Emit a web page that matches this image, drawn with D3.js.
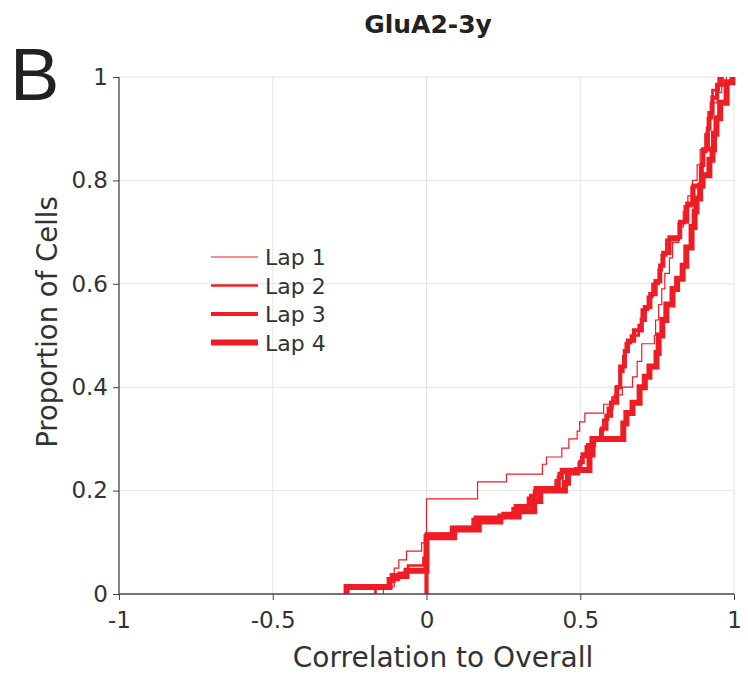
<!DOCTYPE html>
<html>
<head>
  <meta charset="utf-8">
  <title>GluA2-3y</title>
  <style>
    body { margin: 0; background: #fff; }
    svg { display: block; }
    text { font-family: "DejaVu Sans", Verdana, sans-serif; fill: #333; }
  </style>
  <script src="https://cdn.jsdelivr.net/npm/d3@7"></script>
</head>
<body>
<script>
  // step vertices of each cumulative curve: [correlation, proportion]
  var lap1 = [
    [-0.14, 0], [-0.14, 0.014], [-0.105, 0.05], [-0.09, 0.066], [-0.065, 0.083], [-0.016, 0.099],
    [0, 0.184], [0.166, 0.217], [0.26, 0.232], [0.377, 0.251], [0.39, 0.265], [0.44, 0.282],
    [0.463, 0.3], [0.49, 0.315], [0.498, 0.333], [0.515, 0.35], [0.576, 0.367], [0.61, 0.385],
    [0.637, 0.4], [0.67, 0.42], [0.685, 0.45], [0.7, 0.484], [0.741, 0.5], [0.745, 0.53],
    [0.755, 0.56], [0.765, 0.59], [0.775, 0.62], [0.79, 0.65], [0.8, 0.68], [0.82, 0.71],
    [0.835, 0.74], [0.85, 0.77], [0.865, 0.8], [0.88, 0.83], [0.89, 0.86], [0.905, 0.89],
    [0.915, 0.92], [0.93, 0.95], [0.945, 0.97], [0.96, 0.985], [0.975, 1]
  ];
  var lap2 = [
    [-0.166, 0], [-0.166, 0.014], [-0.12, 0.027], [-0.09, 0.041], [-0.06, 0.055], [-0.01, 0.07],
    [0, 0.117], [0.08, 0.13], [0.15, 0.145], [0.24, 0.152], [0.28, 0.166], [0.33, 0.186],
    [0.35, 0.2], [0.42, 0.22], [0.43, 0.234], [0.495, 0.253], [0.503, 0.265], [0.518, 0.285],
    [0.535, 0.298], [0.565, 0.317], [0.575, 0.337], [0.59, 0.36], [0.605, 0.38], [0.615, 0.4],
    [0.63, 0.43], [0.64, 0.46], [0.648, 0.485], [0.665, 0.5], [0.69, 0.52], [0.7, 0.55],
    [0.72, 0.575], [0.735, 0.6], [0.755, 0.627], [0.765, 0.655], [0.78, 0.685], [0.82, 0.717],
    [0.84, 0.75], [0.862, 0.787], [0.89, 0.826], [0.898, 0.855], [0.91, 0.89], [0.915, 0.92],
    [0.925, 0.95], [0.93, 0.975], [0.95, 1]
  ];
  var lap3 = [
    [0, 0], [0, 0.115], [0.09, 0.128], [0.16, 0.148], [0.25, 0.155], [0.29, 0.17], [0.34, 0.19],
    [0.355, 0.205], [0.43, 0.225], [0.44, 0.24], [0.5, 0.255], [0.508, 0.27], [0.525, 0.288],
    [0.545, 0.3], [0.57, 0.32], [0.585, 0.345], [0.6, 0.37], [0.62, 0.4], [0.63, 0.44],
    [0.645, 0.47], [0.655, 0.49], [0.675, 0.51], [0.7, 0.53], [0.71, 0.555], [0.728, 0.58],
    [0.745, 0.605], [0.76, 0.635], [0.77, 0.66], [0.79, 0.69], [0.825, 0.72], [0.848, 0.755],
    [0.868, 0.79], [0.895, 0.83], [0.9, 0.86], [0.915, 0.9], [0.92, 0.93], [0.93, 0.96],
    [0.945, 0.985], [0.96, 1]
  ];
  var lap4 = [
    [-0.26, 0], [-0.26, 0.0135], [-0.12, 0.027], [-0.11, 0.035], [-0.065, 0.045], [0, 0.11],
    [0.09, 0.125], [0.17, 0.14], [0.24, 0.15], [0.3, 0.16], [0.35, 0.18], [0.37, 0.2],
    [0.45, 0.215], [0.46, 0.235], [0.49, 0.24], [0.53, 0.27], [0.54, 0.3], [0.64, 0.33],
    [0.65, 0.35], [0.67, 0.37], [0.693, 0.4], [0.71, 0.42], [0.725, 0.44], [0.748, 0.466],
    [0.755, 0.5], [0.767, 0.53], [0.78, 0.56], [0.8, 0.59], [0.815, 0.61], [0.833, 0.635],
    [0.845, 0.67], [0.862, 0.71], [0.872, 0.74], [0.878, 0.765], [0.89, 0.79], [0.898, 0.81],
    [0.92, 0.84], [0.93, 0.86], [0.935, 0.89], [0.943, 0.92], [0.955, 0.95], [0.976, 0.99],
    [0.995, 1]
  ];

  var lapNames = ['Lap 1', 'Lap 2', 'Lap 3', 'Lap 4'];
  var lapWidths = [1.2, 2.6, 4.2, 6];
  var xTicks = [-1, -0.5, 0, 0.5, 1];
  var yTicks = [0, 0.2, 0.4, 0.6, 0.8, 1];

  var laps = [lap1, lap2, lap3, lap4].map(function (pts, i) {
    return { name: lapNames[i], width: lapWidths[i], pts: pts };
  });

  var W = 748, H = 674;
  var red = '#ee1c25';

  var x = d3.scaleLinear().domain([-1, 1]).range([119, 734]);
  var y = d3.scaleLinear().domain([0, 1]).range([594, 77]);

  var svg = d3.select('body').append('svg')
    .attr('width', W)
    .attr('height', H);

  // grid
  svg.append('g')
    .selectAll('line')
    .data(xTicks.filter(d => d > -1))
    .enter().append('line')
    .attr('x1', d => x(d)).attr('x2', d => x(d))
    .attr('y1', y(0)).attr('y2', y(1))
    .attr('stroke', '#e4e4e4').attr('stroke-width', 1);
  svg.append('g')
    .selectAll('line')
    .data(yTicks.filter(d => d > 0))
    .enter().append('line')
    .attr('x1', x(-1)).attr('x2', x(1))
    .attr('y1', d => y(d)).attr('y2', d => y(d))
    .attr('stroke', '#e4e4e4').attr('stroke-width', 1);

  // curves
  var line = d3.line()
    .x(d => x(d[0]))
    .y(d => y(d[1]))
    .curve(d3.curveStepAfter);

  svg.append('g')
    .selectAll('path')
    .data(laps)
    .enter().append('path')
    .attr('d', d => line(d.pts))
    .attr('fill', 'none')
    .attr('stroke', red)
    .attr('stroke-width', d => d.width);

  // axes
  var xAxis = svg.append('g')
    .attr('transform', 'translate(0,' + y(0) + ')')
    .call(d3.axisBottom(x).tickValues(xTicks).tickSize(6).tickPadding(12)
      .tickFormat(d => d3.format('')(d).replace('−', '-')));
  var yAxis = svg.append('g')
    .attr('transform', 'translate(' + x(-1) + ',0)')
    .call(d3.axisLeft(y).tickValues(yTicks).tickSize(6).tickPadding(5)
      .tickFormat(d3.format('')));

  [xAxis, yAxis].forEach(function (g) {
    g.select('.domain').attr('stroke', '#444').attr('stroke-width', 1.3);
    g.selectAll('.tick line').attr('stroke', '#444');
    g.selectAll('.tick text')
      .attr('font-family', '"DejaVu Sans", Verdana, sans-serif')
      .attr('font-size', 23)
      .attr('fill', '#333');
  });
  xAxis.select('.domain').attr('d', 'M' + x(-1) + ',0H' + x(1));
  yAxis.select('.domain').attr('d', 'M0,' + y(0) + 'V' + y(1));

  // titles
  svg.append('text')
    .attr('x', 428).attr('y', 33)
    .attr('text-anchor', 'middle')
    .attr('font-size', 25)
    .attr('font-weight', 'bold')
    .style('fill', '#222')
    .text('GluA2-3y');

  svg.append('text')
    .attr('x', 10).attr('y', 100)
    .style('font-family', '"Liberation Sans", Arial, sans-serif')
    .style('fill', '#222')
    .attr('font-size', 74)
    .text('B');

  svg.append('text')
    .attr('x', 443).attr('y', 667)
    .attr('text-anchor', 'middle')
    .attr('font-size', 28)
    .text('Correlation to Overall');

  svg.append('text')
    .attr('transform', 'translate(57,322) rotate(-90)')
    .attr('text-anchor', 'middle')
    .attr('font-size', 27.5)
    .text('Proportion of Cells');

  // legend
  var legend = svg.append('g')
    .selectAll('g')
    .data(laps)
    .enter().append('g')
    .attr('transform', (d, i) => 'translate(211,' + (257 + i * 28.5) + ')');
  legend.append('line')
    .attr('x1', 0).attr('x2', 47)
    .attr('stroke', red)
    .attr('stroke-width', d => d.width);
  legend.append('text')
    .attr('x', 54).attr('y', 8)
    .attr('font-size', 22)
    .text(d => d.name);
</script>
</body>
</html>
